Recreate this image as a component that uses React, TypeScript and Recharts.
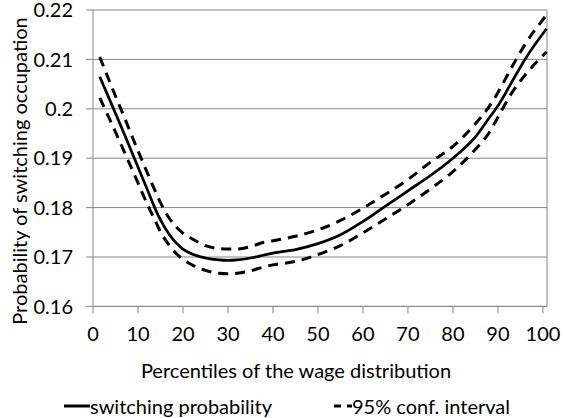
import { LineChart, Line, XAxis, YAxis, CartesianGrid, ReferenceLine } from 'recharts';

// percentile positions
const percentiles = [1.5, 4, 7, 10, 12, 14, 15, 17, 20, 22, 25, 28, 30, 32, 35, 38, 40, 45, 50, 55, 60, 65, 70, 75, 80, 85, 88, 90, 93, 96, 100.8];

const switchingProb = [
  0.2065, 0.2012, 0.1948, 0.1882, 0.1838, 0.1794, 0.1775, 0.1745, 0.1716, 0.1706,
  0.1698, 0.1694, 0.1693, 0.1694, 0.1698, 0.1704, 0.1708, 0.1715, 0.1727, 0.1745,
  0.1772, 0.1803, 0.1834, 0.1865, 0.19, 0.1943, 0.1981, 0.2006, 0.2053, 0.21, 0.2162,
];

const upperBound = [
  0.2105, 0.2048, 0.1982, 0.1915, 0.1872, 0.183, 0.181, 0.1778, 0.1748, 0.1737,
  0.1723, 0.1717, 0.1716, 0.1716, 0.1721, 0.173, 0.1733, 0.1742, 0.1755, 0.1774,
  0.1799, 0.1827, 0.1857, 0.1892, 0.1924, 0.197, 0.2004, 0.2033, 0.2083, 0.213, 0.219,
];

const lowerBound = [
  0.2022, 0.1973, 0.1912, 0.185, 0.1808, 0.177, 0.1751, 0.1723, 0.1695, 0.1684,
  0.1673, 0.1667, 0.1666, 0.1667, 0.1672, 0.168, 0.1684, 0.1691, 0.1705, 0.1723,
  0.1749, 0.1777, 0.1806, 0.1838, 0.1873, 0.1918, 0.1951, 0.1983, 0.2031, 0.2068, 0.2115,
];

const xTicks = [0, 10, 20, 30, 40, 50, 60, 70, 80, 90, 100];
const yTicks = [0.16, 0.17, 0.18, 0.19, 0.2, 0.21, 0.22];
const xMax = 100.9;

const seriesNames = { prob: 'switching probability', ci: '95% conf. interval' };

const data = percentiles.map((p, i) => ({
  p,
  prob: switchingProb[i],
  upper: upperBound[i],
  lower: lowerBound[i],
}));

const font = 'Lato, "Open Sans", sans-serif';
const gridColor = '#868686';

export default function App() {
  return (
    <div style={{ position: 'absolute', left: 0, top: 0, width: 564, height: 418, background: '#fff', fontFamily: font }}>
      <LineChart width={564} height={418} data={data} margin={{ top: 10, right: 17, left: 0, bottom: 81.6 }}>
        <CartesianGrid vertical={false} stroke={gridColor} strokeWidth={1} />
        <XAxis
          dataKey="p"
          type="number"
          domain={[0, xMax]}
          ticks={xTicks}
          interval={0}
          height={30}
          stroke={gridColor}
          tickSize={7}
          tickMargin={13}
          tick={{ fill: '#000', fontSize: 20, fontFamily: font }}
          label={{
            content: () => (
              <text x={296} y={378} textAnchor="middle" fontSize={20} fontFamily={font} fill="#000">
                Percentiles of the wage distribution
              </text>
            ),
          }}
        />
        <YAxis
          type="number"
          domain={[0.16, 0.22]}
          ticks={yTicks}
          interval={0}
          width={93}
          stroke={gridColor}
          tickSize={7}
          tickMargin={13}
          tick={{ fill: '#000', fontSize: 20, fontFamily: font }}
          label={{
            content: () => (
              <text
                x={19}
                y={171}
                transform="rotate(-90 19 171)"
                textAnchor="middle"
                dominantBaseline="central"
                fontSize={20}
                fontFamily={font}
                fill="#000"
              >
                Probability of switching occupation
              </text>
            ),
          }}
        />
        <ReferenceLine x={xMax} stroke={gridColor} strokeWidth={1} />
        <Line dataKey="upper" type="monotone" stroke="#000" strokeWidth={3} strokeDasharray="10 7" dot={false} isAnimationActive={false} />
        <Line dataKey="lower" type="monotone" stroke="#000" strokeWidth={3} strokeDasharray="10 7" dot={false} isAnimationActive={false} />
        <Line dataKey="prob" type="monotone" stroke="#000" strokeWidth={2.75} dot={false} isAnimationActive={false} />
      </LineChart>
      {/* legend */}
      <div style={{ position: 'absolute', left: 64, top: 394, display: 'flex', alignItems: 'center', fontSize: 20, color: '#000', whiteSpace: 'nowrap' }}>
        <svg width={26} height={10}>
          <line x1={0} y1={5} x2={26} y2={5} stroke="#000" strokeWidth={3} />
        </svg>
        <span>{seriesNames.prob}</span>
      </div>
      <div style={{ position: 'absolute', left: 334, top: 394, display: 'flex', alignItems: 'center', fontSize: 20, color: '#000', whiteSpace: 'nowrap' }}>
        <svg width={18} height={10}>
          <line x1={0} y1={5} x2={18} y2={5} stroke="#000" strokeWidth={3} strokeDasharray="7 6" />
        </svg>
        <span>{seriesNames.ci}</span>
      </div>
    </div>
  );
}
